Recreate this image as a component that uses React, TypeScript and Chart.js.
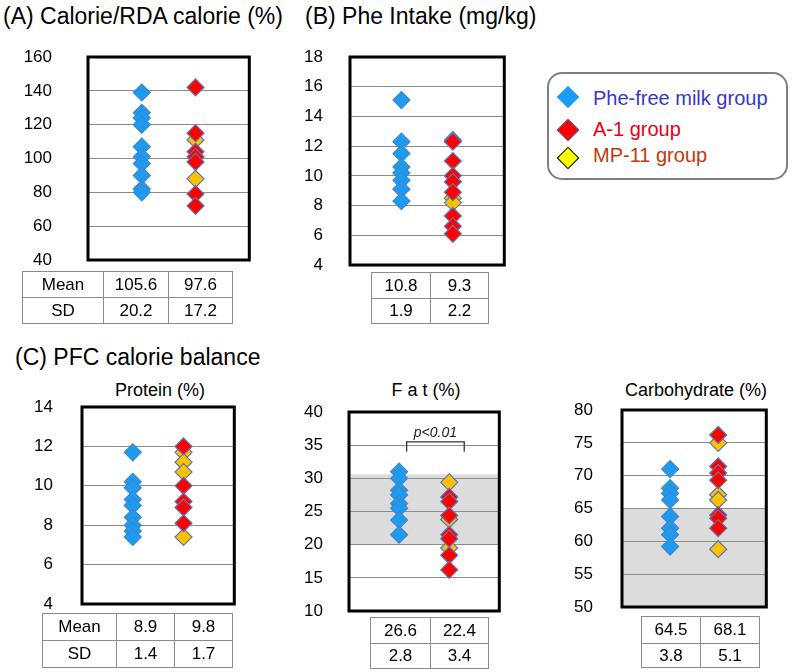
import React, { useEffect, useRef } from "react";
import { Chart, registerables } from "chart.js";

Chart.register(...registerables);

const FONT = '"Liberation Sans", Arial, Helvetica, sans-serif';

// ---------- data ----------
const groupNames = ["Phe-free milk group", "A-1 group", "MP-11 group"];
const groupX = [1, 2, 2];

// (A) Calorie / RDA calorie (%)
const calorieBlue = [139, 127, 124, 120, 107, 101, 97, 90, 82, 80];
const calorieRed = [142, 115, 104, 101, 98, 79, 72];
const calorieYellow = [111, 88];
const calorieMean = ["105.6", "97.6"];
const calorieSD = ["20.2", "17.2"];

// (B) Phe intake (mg/kg)
const pheBlue = [15.1, 12.3, 11.5, 10.6, 10.2, 9.7, 9.1, 8.3];
const pheRed = [12.4, 12.3, 11.0, 10.0, 9.6, 8.9, 7.3, 6.6, 6.1];
const pheYellow = [8.5, 8.2];
const pheMean = ["10.8", "9.3"];
const pheSD = ["1.9", "2.2"];

// (C) Protein (%)
const proteinBlue = [11.7, 10.2, 9.9, 9.3, 9.0, 8.4, 8.0, 7.7, 7.4];
const proteinRed = [12.0, 10.0, 9.2, 8.9, 8.1];
const proteinYellow = [11.7, 11.2, 10.7, 7.4];
const proteinMean = ["8.9", "9.8"];
const proteinSD = ["1.4", "1.7"];

// (C) Fat (%)
const fatBlue = [31.0, 30.0, 28.2, 27.5, 26.2, 25.5, 23.7, 21.5];
const fatRed = [27.2, 26.5, 24.4, 21.5, 20.9, 18.4, 16.2];
const fatYellow = [29.4, 23.8, 19.5];
const fatMean = ["26.6", "22.4"];
const fatSD = ["2.8", "3.4"];
const fatBand = [20, 30.6];
const fatBracket = { from: 1.15, to: 2.3, y: 35.5, tip: 34.0, label: "p<0.01" };

// (C) Carbohydrate (%)
const carbBlue = [71.0, 68.1, 67.3, 66.3, 63.8, 62.0, 61.0, 59.2];
const carbRed = [76.2, 71.4, 70.4, 69.3, 64.0, 63.5, 62.0];
const carbYellow = [75.0, 67.1, 66.3, 58.8];
const carbMean = ["64.5", "68.1"];
const carbSD = ["3.8", "5.1"];
const carbBand = [50, 65];

// ---------- styles ----------
const BLUE = "#1E9BF0";
const BLUE_BORDER = "#3C88CC";
const RED = "#FF0000";
const GOLD = "#FFC000";
const MARK_BORDER = "#5B78B5";
const AXIS_W = 75;
const PAD_T = 14;
const PAD_B = 14;
const PAD_R = 6;

type Box = { l: number; t: number; r: number; b: number };

function makePoints(vals: number[], x: number) {
  return vals.map((v) => ({ x, y: v }));
}

function Panel(props: {
  box: Box;
  yMin: number;
  yMax: number;
  step: number;
  gap: number;
  blue: number[];
  red: number[];
  yellow: number[];
  band?: number[];
  bracket?: { from: number; to: number; y: number; tip: number; label: string };
}) {
  const ref = useRef<HTMLCanvasElement | null>(null);
  const { box } = props;
  const w = box.r - box.l + AXIS_W + PAD_R;
  const h = box.b - box.t + PAD_T + PAD_B;
  useEffect(() => {
    const band = props.band;
    const bracket = props.bracket;
    const chart = new Chart(ref.current as HTMLCanvasElement, {
      type: "scatter",
      data: {
        datasets: [
          {
            label: groupNames[1],
            data: makePoints(props.red, groupX[1]),
            backgroundColor: RED,
            borderColor: MARK_BORDER,
          },
          {
            label: groupNames[2],
            data: makePoints(props.yellow, groupX[2]),
            backgroundColor: GOLD,
            borderColor: MARK_BORDER,
          },
          {
            label: groupNames[0],
            data: makePoints(props.blue, groupX[0]),
            backgroundColor: BLUE,
            borderColor: BLUE_BORDER,
          },
        ],
      },
      options: {
        responsive: false,
        animation: false,
        devicePixelRatio: 1,
        events: [],
        layout: { padding: { left: 0, right: PAD_R, top: PAD_T, bottom: PAD_B } },
        elements: {
          point: { pointStyle: "rectRot", radius: 8.5, borderWidth: 1.2, hoverRadius: 8.5 },
        },
        plugins: { legend: { display: false }, tooltip: { enabled: false } },
        scales: {
          x: { type: "linear", min: 0, max: 3, display: false },
          y: {
            type: "linear",
            min: props.yMin,
            max: props.yMax,
            afterFit: (s: any) => {
              s.width = AXIS_W;
            },
            ticks: {
              stepSize: props.step,
              color: "#000",
              padding: 0,
              font: { family: FONT, size: 17 },
            },
            grid: {
              color: "#8c8c8c",
              lineWidth: 1,
              drawTicks: true,
              tickLength: props.gap,
              tickColor: "rgba(0,0,0,0)",
            },
            border: { display: false },
          },
        },
      },
      plugins: [
        {
          id: "band",
          beforeDraw(c: any) {
            if (!band) return;
            const { ctx, chartArea, scales } = c;
            const y1 = scales.y.getPixelForValue(band[1]);
            const y0 = scales.y.getPixelForValue(band[0]);
            ctx.save();
            ctx.fillStyle = "#DCDCDC";
            ctx.fillRect(chartArea.left, y1, chartArea.right - chartArea.left, y0 - y1);
            ctx.restore();
          },
        },
        {
          id: "frame",
          afterDraw(c: any) {
            const { ctx, chartArea, scales } = c;
            ctx.save();
            if (bracket) {
              const xa = scales.x.getPixelForValue(bracket.from);
              const xb = scales.x.getPixelForValue(bracket.to);
              const yl = scales.y.getPixelForValue(bracket.y);
              const yt = scales.y.getPixelForValue(bracket.tip);
              ctx.strokeStyle = "#333";
              ctx.lineWidth = 1.3;
              ctx.beginPath();
              ctx.moveTo(xa, yt);
              ctx.lineTo(xa, yl);
              ctx.lineTo(xb, yl);
              ctx.lineTo(xb, yt);
              ctx.stroke();
              ctx.fillStyle = "#222";
              ctx.font = `italic 14px ${FONT}`;
              ctx.textAlign = "center";
              ctx.textBaseline = "alphabetic";
              ctx.fillText(bracket.label, (xa + xb) / 2, yl - 5);
            }
            ctx.strokeStyle = "#000";
            ctx.lineWidth = 3;
            ctx.strokeRect(
              chartArea.left,
              chartArea.top,
              chartArea.right - chartArea.left,
              chartArea.bottom - chartArea.top
            );
            ctx.restore();
          },
        },
      ],
    } as any);
    return () => chart.destroy();
  }, []);
  return (
    <canvas
      ref={ref}
      width={w}
      height={h}
      style={{
        position: "absolute",
        left: box.l - AXIS_W,
        top: box.t - PAD_T,
        width: w,
        height: h,
      }}
    />
  );
}

function Text(props: {
  x: number;
  base: number;
  size: number;
  children: React.ReactNode;
  center?: boolean;
  color?: string;
}) {
  const { x, base, size, center } = props;
  return (
    <div
      style={{
        position: "absolute",
        left: center ? x - 200 : x,
        width: center ? 400 : undefined,
        textAlign: center ? "center" : "left",
        top: base - 0.8465 * size,
        fontSize: size,
        lineHeight: `${size}px`,
        fontFamily: FONT,
        color: props.color || "#000",
        whiteSpace: "nowrap",
      }}
    >
      {props.children}
    </div>
  );
}

function StatTable(props: { xs: number[]; ys: number[]; rows: string[][] }) {
  const { xs, ys, rows } = props;
  const cells: React.ReactNode[] = [];
  rows.forEach((row, i) => {
    row.forEach((txt, j) => {
      cells.push(
        <div
          key={`${i}-${j}`}
          style={{
            position: "absolute",
            left: xs[j],
            top: ys[i],
            width: xs[j + 1] - xs[j] + 1,
            height: ys[i + 1] - ys[i] + 1,
            boxSizing: "border-box",
            border: "1px solid #8c8c8c",
            display: "flex",
            alignItems: "center",
            justifyContent: "center",
            fontFamily: FONT,
            fontSize: 17,
            color: "#000",
          }}
        >
          {txt}
        </div>
      );
    });
  });
  return <>{cells}</>;
}

function Diamond(props: { cx: number; cy: number; fill: string; border?: string }) {
  const side = 16;
  return (
    <div
      style={{
        position: "absolute",
        left: props.cx - side / 2,
        top: props.cy - side / 2,
        width: side,
        height: side,
        boxSizing: "border-box",
        background: props.fill,
        border: props.border ? `1.5px solid ${props.border}` : "none",
        transform: "rotate(45deg)",
      }}
    />
  );
}

export default function App() {
  return (
    <div
      style={{
        position: "absolute",
        left: 0,
        top: 0,
        width: 792,
        height: 672,
        background: "#fff",
        overflow: "hidden",
      }}
    >
      <Text x={3} base={24} size={23}>(A) Calorie/RDA calorie (%)</Text>
      <Text x={305} base={24} size={23}>(B) Phe Intake (mg/kg)</Text>
      <Text x={15} base={365} size={23}>(C) PFC calorie balance</Text>
      <Text x={160} base={396} size={18} center>Protein (%)</Text>
      <Text x={426} base={396} size={18} center>F a t (%)</Text>
      <Text x={696} base={396} size={18} center>Carbohydrate (%)</Text>

      <Panel
        box={{ l: 88, t: 57, r: 253, b: 260 }}
        yMin={40}
        yMax={160}
        step={20}
        gap={36}
        blue={calorieBlue}
        red={calorieRed}
        yellow={calorieYellow}
      />
      <Panel
        box={{ l: 350, t: 57, r: 508, b: 265 }}
        yMin={4}
        yMax={18}
        step={2}
        gap={27}
        blue={pheBlue}
        red={pheRed}
        yellow={pheYellow}
      />
      <Panel
        box={{ l: 82, t: 407, r: 238, b: 604 }}
        yMin={4}
        yMax={14}
        step={2}
        gap={29}
        blue={proteinBlue}
        red={proteinRed}
        yellow={proteinYellow}
      />
      <Panel
        box={{ l: 349, t: 412, r: 503, b: 611 }}
        yMin={10}
        yMax={40}
        step={5}
        gap={26}
        blue={fatBlue}
        red={fatRed}
        yellow={fatYellow}
        band={fatBand}
        bracket={fatBracket}
      />
      <Panel
        box={{ l: 622, t: 410, r: 770, b: 607 }}
        yMin={50}
        yMax={80}
        step={5}
        gap={29}
        blue={carbBlue}
        red={carbRed}
        yellow={carbYellow}
        band={carbBand}
      />

      <StatTable
        xs={[22, 103, 168, 232]}
        ys={[271, 297, 323]}
        rows={[["Mean", ...calorieMean], ["SD", ...calorieSD]]}
      />
      <StatTable xs={[371, 430, 488]} ys={[272, 298, 323]} rows={[pheMean, pheSD]} />
      <StatTable
        xs={[42, 116, 174, 232]}
        ys={[613, 640, 667]}
        rows={[["Mean", ...proteinMean], ["SD", ...proteinSD]]}
      />
      <StatTable xs={[370, 430, 488]} ys={[617, 643, 668]} rows={[fatMean, fatSD]} />
      <StatTable xs={[641, 700, 759]} ys={[616, 643, 667]} rows={[carbMean, carbSD]} />

      <div
        style={{
          position: "absolute",
          left: 547,
          top: 72,
          width: 241,
          height: 108,
          boxSizing: "border-box",
          border: "2.5px solid #7f7f7f",
          borderRadius: 15,
        }}
      />
      <Diamond cx={568} cy={97} fill="#1A9BF4" />
      <Diamond cx={568} cy={130} fill="#FF0000" border="#5B5B99" />
      <Diamond cx={568} cy={158} fill="#FFFF00" border="#000" />
      <Text x={593} base={105} size={20} color="#3636D0">{groupNames[0]}</Text>
      <Text x={593} base={136} size={20} color="#E60012">{groupNames[1]}</Text>
      <Text x={593} base={162} size={20} color="#C8370A">{groupNames[2]}</Text>
    </div>
  );
}
